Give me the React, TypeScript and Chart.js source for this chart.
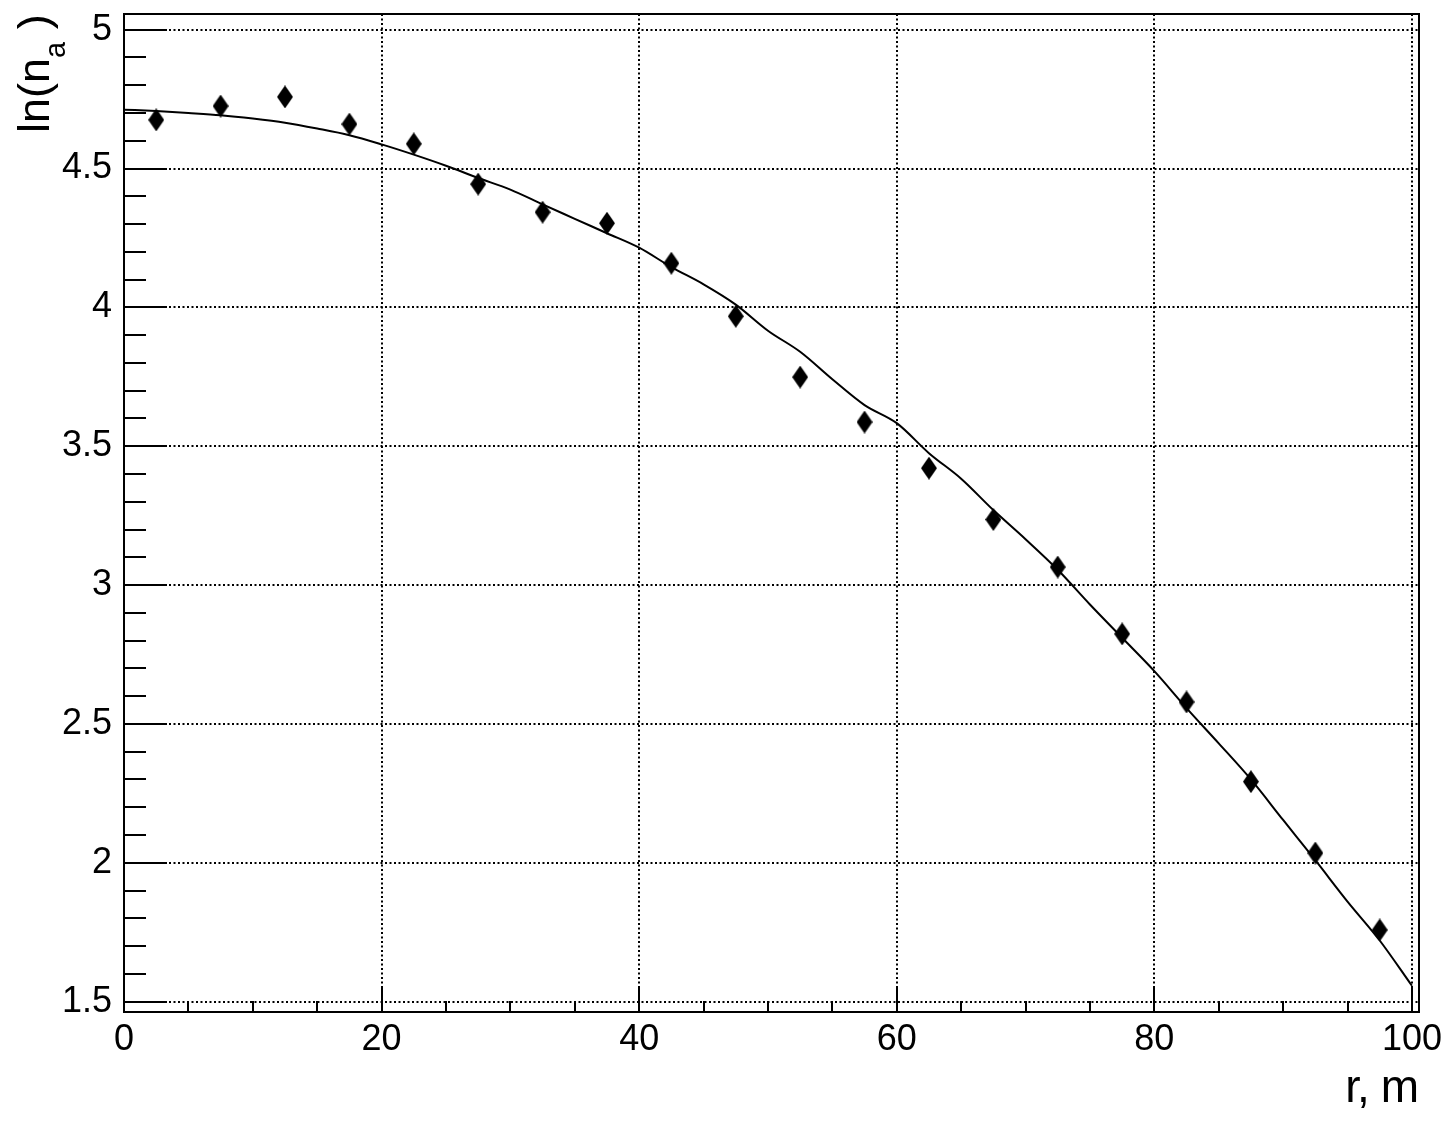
import React, { useEffect, useRef } from "react";
import { Chart, registerables } from "chart.js";

Chart.register(...registerables);

// Measured points: radius r (m) and ln(n_a)
const radiusM = [2.5, 7.5, 12.5, 17.5, 22.5, 27.5, 32.5, 37.5, 42.5, 47.5, 52.5, 57.5, 62.5, 67.5, 72.5, 77.5, 82.5, 87.5, 92.5, 97.5];
const lnNa = [4.675, 4.725, 4.758, 4.66, 4.589, 4.444, 4.343, 4.303, 4.159, 3.968, 3.749, 3.587, 3.421, 3.236, 3.065, 2.824, 2.579, 2.292, 2.035, 1.758];

// Fit curve samples
const fitR = [0, 2.5, 5, 7.5, 10, 12.5, 15, 17.5, 20, 22.5, 25, 27.5, 30, 32.5, 35, 37.5, 40, 42.5, 45, 47.5, 50, 52.5, 55, 57.5, 60, 62.5, 65, 67.5, 70, 72.5, 75, 77.5, 80, 82.5, 85, 87.5, 90, 92.5, 95, 97.5, 100];
const fitLn = [4.712, 4.707, 4.7, 4.692, 4.68, 4.665, 4.644, 4.62, 4.587, 4.55, 4.51, 4.466, 4.424, 4.371, 4.319, 4.267, 4.215, 4.145, 4.083, 4.01, 3.916, 3.84, 3.741, 3.648, 3.583, 3.475, 3.383, 3.27, 3.165, 3.055, 2.93, 2.81, 2.69, 2.557, 2.43, 2.3, 2.154, 2.009, 1.86, 1.72, 1.557];

// Axes
const xMajorTicks = [0, 20, 40, 60, 80, 100];
const yMajorTicks = [1.5, 2, 2.5, 3, 3.5, 4, 4.5, 5];
const xMinorTicks = [5, 10, 15, 25, 30, 35, 45, 50, 55, 65, 70, 75, 85, 90, 95];
const yMinorTicks = [1.6, 1.7, 1.8, 1.9, 2.1, 2.2, 2.3, 2.4, 2.6, 2.7, 2.8, 2.9, 3.1, 3.2, 3.3, 3.4, 3.6, 3.7, 3.8, 3.9, 4.1, 4.2, 4.3, 4.4, 4.6, 4.7, 4.8, 4.9];
const xRange = [0, 100.55];
const yRange = [1.4625, 5.0565];
const xTitle = "r, m";
const yTitleMain = "ln(n";
const yTitleSub = "a";
const yTitleEnd = " )";

const FONT = "'Liberation Sans', Arial, Helvetica, sans-serif";

function makeDiamond(): HTMLCanvasElement {
  const c = document.createElement("canvas");
  c.width = 16;
  c.height = 23;
  const g = c.getContext("2d")!;
  g.fillStyle = "#000";
  g.beginPath();
  g.moveTo(8, 0);
  g.lineTo(16, 11.5);
  g.lineTo(8, 23);
  g.lineTo(0, 11.5);
  g.closePath();
  g.fill();
  return c;
}

const frameAndTicks = {
  id: "frameAndTicks",
  afterDraw(chart: any) {
    const { ctx, chartArea: a, scales } = chart;
    const xs = scales.x;
    const ys = scales.y;
    ctx.save();
    ctx.strokeStyle = "#000";
    ctx.lineWidth = 2;
    ctx.setLineDash([]);
    ctx.beginPath();
    for (const v of yMajorTicks) {
      const py = Math.round(ys.getPixelForValue(v));
      ctx.moveTo(a.left, py);
      ctx.lineTo(a.left + 43, py);
    }
    for (const v of yMinorTicks) {
      const py = Math.round(ys.getPixelForValue(v));
      ctx.moveTo(a.left, py);
      ctx.lineTo(a.left + 22, py);
    }
    for (const v of xMajorTicks) {
      const px = Math.round(xs.getPixelForValue(v));
      ctx.moveTo(px, a.bottom);
      ctx.lineTo(px, a.bottom - 26);
    }
    for (const v of xMinorTicks) {
      const px = Math.round(xs.getPixelForValue(v));
      ctx.moveTo(px, a.bottom);
      ctx.lineTo(px, a.bottom - 11);
    }
    ctx.stroke();
    ctx.strokeRect(a.left, a.top, a.right - a.left, a.bottom - a.top);

    ctx.fillStyle = "#000";
    ctx.font = `46px ${FONT}`;
    ctx.textAlign = "right";
    ctx.textBaseline = "alphabetic";
    try { (ctx as any).letterSpacing = "-1px"; } catch (e) {}
    ctx.fillText(xTitle, a.right - 1, 1102);
    try { (ctx as any).letterSpacing = "0px"; } catch (e) {}

    ctx.translate(49, 133);
    ctx.rotate(-Math.PI / 2);
    ctx.textAlign = "left";
    ctx.font = `45px ${FONT}`;
    ctx.fillText(yTitleMain, 0, 0);
    let off = ctx.measureText(yTitleMain).width;
    ctx.font = `29px ${FONT}`;
    ctx.fillText(yTitleSub, off, 16);
    off += ctx.measureText(yTitleSub).width;
    ctx.font = `45px ${FONT}`;
    ctx.fillText(yTitleEnd, off, 0);
    ctx.restore();
  },
};

export default function App() {
  const ref = useRef<HTMLCanvasElement | null>(null);

  useEffect(() => {
    if (!ref.current) return;
    const diamond = makeDiamond();
    const chart = new Chart(ref.current, {
      type: "scatter",
      data: {
        datasets: [
          {
            type: "line",
            label: "fit",
            data: fitR.map((x, i) => ({ x, y: fitLn[i] })),
            borderColor: "#000",
            borderWidth: 2,
            pointRadius: 0,
            fill: false,
            cubicInterpolationMode: "monotone",
            order: 2,
          },
          {
            type: "scatter",
            label: "data",
            data: radiusM.map((x, i) => ({ x, y: lnNa[i] })),
            pointStyle: diamond as any,
            pointRadius: 8,
            backgroundColor: "#000",
            borderColor: "#000",
            order: 1,
          },
        ],
      } as any,
      plugins: [frameAndTicks],
      options: {
        animation: false,
        responsive: false,
        devicePixelRatio: 1,
        layout: { padding: { left: 0, top: 14, right: 35, bottom: 0 } },
        plugins: { legend: { display: false }, tooltip: { enabled: false }, title: { display: false } },
        scales: {
          x: {
            type: "linear",
            min: xRange[0],
            max: xRange[1],
            afterFit: (s: any) => { s.height = 110; s.paddingLeft = 0; s.paddingRight = 0; },
            afterBuildTicks: (s: any) => { s.ticks = xMajorTicks.map((v) => ({ value: v })); },
            grid: { color: "#000", lineWidth: 2, drawTicks: false },
            border: { display: false, dash: [2, 2.5] },
            ticks: {
              color: "#000",
              font: { family: FONT, size: 36 },
              padding: 6,
              maxRotation: 0,
              autoSkip: false,
              callback: (v: any) => String(v),
            },
          },
          y: {
            type: "linear",
            min: yRange[0],
            max: yRange[1],
            afterFit: (s: any) => { s.width = 124; s.paddingTop = 0; s.paddingBottom = 0; },
            afterBuildTicks: (s: any) => { s.ticks = yMajorTicks.map((v) => ({ value: v })); },
            grid: { color: "#000", lineWidth: 2, drawTicks: false },
            border: { display: false, dash: [2, 2.5] },
            ticks: {
              color: "#000",
              font: { family: FONT, size: 36 },
              padding: 12,
              autoSkip: false,
              callback: (v: any) => String(v),
            },
          },
        },
      } as any,
    });
    return () => chart.destroy();
  }, []);

  return (
    <div style={{ position: "absolute", left: 0, top: 0, width: 1454, height: 1122, background: "#fff" }}>
      <canvas ref={ref} width={1454} height={1122} style={{ width: 1454, height: 1122, display: "block" }} />
    </div>
  );
}
